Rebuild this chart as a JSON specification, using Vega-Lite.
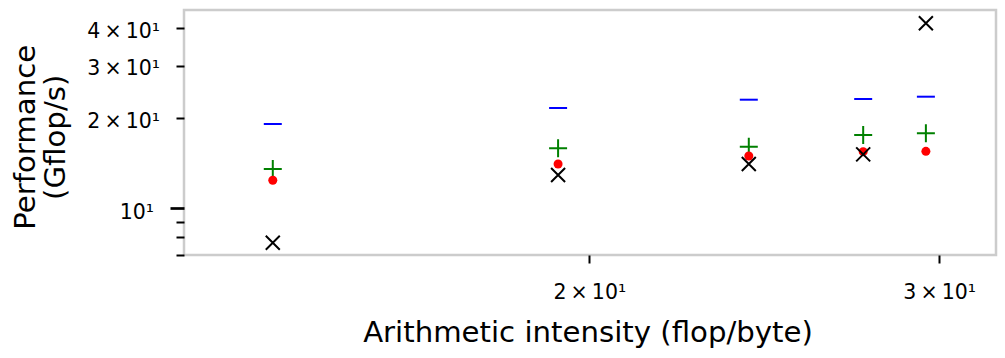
{
  "$schema": "https://vega.github.io/schema/vega-lite/v6.json",
  "width": 812,
  "height": 245,
  "autosize": "none",
  "padding": {"left": 184, "top": 10, "right": 9, "bottom": 103},
  "config": {
    "font": "DejaVu Sans",
    "view": {"stroke": "#cccccc", "strokeWidth": 2.5},
    "axis": {"grid": false, "domain": false, "labelColor": "#000000", "titleColor": "#000000", "tickColor": "#000000", "labelFont": "DejaVu Sans", "titleFont": "DejaVu Sans", "titleFontWeight": "normal"}
  },
  "data": {
    "values": [
      {"x": 13.86, "y": 19.14, "series": "blue"},
      {"x": 13.86, "y": 13.53, "series": "green"},
      {"x": 13.86, "y": 12.41, "series": "red"},
      {"x": 13.86, "y": 7.67, "series": "black"},
      {"x": 19.29, "y": 21.65, "series": "blue"},
      {"x": 19.29, "y": 15.87, "series": "green"},
      {"x": 19.29, "y": 14.07, "series": "red"},
      {"x": 19.29, "y": 12.92, "series": "black"},
      {"x": 24.06, "y": 23.08, "series": "blue"},
      {"x": 24.06, "y": 16.07, "series": "green"},
      {"x": 24.06, "y": 14.96, "series": "red"},
      {"x": 24.06, "y": 14.07, "series": "black"},
      {"x": 27.47, "y": 23.2, "series": "blue"},
      {"x": 27.47, "y": 17.59, "series": "green"},
      {"x": 27.47, "y": 15.47, "series": "red"},
      {"x": 27.47, "y": 15.15, "series": "black"},
      {"x": 29.54, "y": 23.62, "series": "blue"},
      {"x": 29.54, "y": 17.82, "series": "green"},
      {"x": 29.54, "y": 15.51, "series": "red"},
      {"x": 29.54, "y": 41.56, "series": "black"}
    ]
  },
  "encoding": {
    "x": {
      "field": "x", "type": "quantitative",
      "scale": {"type": "log", "domain": [12.505, 32.04], "nice": false, "zero": false},
      "axis": {
        "values": [20, 30],
        "labelExpr": "datum.value == 20 ? '2\u2009×\u200910¹' : datum.value == 30 ? '3\u2009×\u200910¹' : ''",
        "tickSize": 8, "tickWidth": 2,
        "labelFontSize": 20.5, "labelBaseline": "alphabetic", "labelPadding": 35,
        "labelOverlap": false, "labelFlush": false,
        "title": "Arithmetic intensity (flop/byte)",
        "titleFontSize": 29.2, "titleBaseline": "alphabetic", "titleX": 403.5, "titleY": 86.7, "titleAlign": "center"
      }
    },
    "y": {
      "field": "y", "type": "quantitative",
      "scale": {"type": "log", "domain": [6.98, 46.05], "nice": false, "zero": false},
      "axis": {
        "values": [7, 8, 9, 10, 20, 30, 40],
        "labelExpr": "datum.value == 10 ? '10¹' : datum.value == 20 ? '2\u2009×\u200910¹' : datum.value == 30 ? '3\u2009×\u200910¹' : datum.value == 40 ? '4\u2009×\u200910¹' : ''",
        "tickSize": {"condition": {"test": "datum.value == 10", "value": 14}, "value": 8},
        "tickWidth": {"condition": {"test": "datum.value == 10", "value": 2.7}, "value": 2},
        "labelFontSize": 20.5, "labelBaseline": "alphabetic", "labelAlign": "right",
        "labelOffset": {"condition": {"test": "datum.value == 10", "value": 10.5}, "value": 9},
        "labelPadding": 16.5,
        "labelOverlap": false, "labelFlush": false,
        "title": ["Performance", "(Gflop/s)"],
        "titleFontSize": 29.2, "titleBaseline": "alphabetic", "titleAngle": -90, "titleAlign": "center",
        "titleX": -149.7, "titleY": 126.8, "titleLineHeight": 30.5
      }
    }
  },
  "layer": [
    {
      "transform": [{"filter": "datum.series == 'blue'"}],
      "mark": {"type": "point", "shape": "M-1,0H1", "size": 324, "filled": false, "stroke": "#0000ff", "strokeWidth": 2, "opacity": 1}
    },
    {
      "transform": [{"filter": "datum.series == 'green'"}],
      "mark": {"type": "point", "shape": "M-1,0H1M0,-1V1", "size": 324, "filled": false, "stroke": "#008000", "strokeWidth": 2, "opacity": 1}
    },
    {
      "transform": [{"filter": "datum.series == 'red'"}],
      "mark": {"type": "point", "shape": "circle", "size": 81, "filled": true, "fill": "#ff0000", "strokeWidth": 0, "opacity": 1}
    },
    {
      "transform": [{"filter": "datum.series == 'black'"}],
      "mark": {"type": "point", "shape": "M-1,-1L1,1M-1,1L1,-1", "size": 196, "filled": false, "stroke": "#000000", "strokeWidth": 2, "opacity": 1}
    }
  ]
}
